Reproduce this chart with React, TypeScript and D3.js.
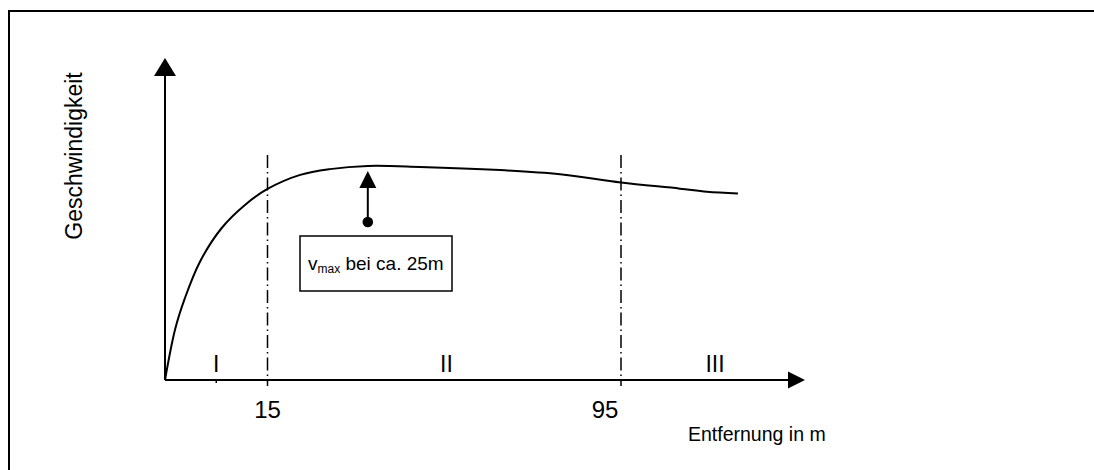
import React from "react";
import * as d3 from "d3";

// Distance (m, schematic) and speed (arbitrary units)
const distance = [0, 1.5, 2.9, 5.1, 8.3, 11.7, 15, 22.4, 29.1, 37.7, 49.5, 67.6, 81.2, 95, 109.4, 116, 123.6];
const speed = [0, 1.6, 2.55, 3.69, 4.75, 5.47, 5.97, 6.41, 6.59, 6.69, 6.66, 6.56, 6.43, 6.17, 5.98, 5.88, 5.83];
const boundaryTicks = [15, 95];
const boundaryLabels = ["15", "95"];
const regionLabels = ["I", "II", "III"];
const regionCenters = [7.5, 55.5, 118];
const vmaxAt = 37.7;
const axisLabelX = "Entfernung in m";
const axisLabelY = "Geschwindigkeit";

export default function App() {
  const W = 1094, H = 470;
  const x = d3.scaleLinear().domain([0, 15, 95, 140]).range([165, 267.5, 621, 805]);
  const y = d3.scaleLinear().domain([0, 10]).range([380, 60]);
  const pts: [number, number][] = distance.map((d, i) => [d, speed[i]]);
  const line = d3.line<[number, number]>().x(d => x(d[0])).y(d => y(d[1])).curve(d3.curveCatmullRom.alpha(0.5));
  const x0 = x(0), y0 = y(0);
  const xEnd = x(140), yEnd = 58;
  const font = "Liberation Sans, Arial, sans-serif";
  const ax = x(vmaxAt);
  const peakY = y(d3.max(speed) as number);
  return (
    <svg width={W} height={H} style={{ position: "absolute", left: 0, top: 0 }}>
      <rect x={0} y={0} width={W} height={H} fill="#fff" />
      <rect x={9} y={11} width={1200} height={600} fill="none" stroke="#000" strokeWidth={2} />
      {/* axes */}
      <line x1={x0} y1={y0} x2={x0} y2={yEnd + 16} stroke="#000" strokeWidth={2} />
      <path d={`M${x0},${yEnd} L${x0 - 11},${yEnd + 18} L${x0 + 11},${yEnd + 18} Z`} fill="#000" />
      <line x1={x0} y1={y0} x2={xEnd - 16} y2={y0} stroke="#000" strokeWidth={2} />
      <path d={`M${xEnd},${y0} L${xEnd - 17},${y0 - 8.5} L${xEnd - 17},${y0 + 8.5} Z`} fill="#000" />
      {/* small tick */}
      <line x1={x(7.5)} y1={y0} x2={x(7.5)} y2={y0 + 3} stroke="#000" strokeWidth={1.5} />
      {/* dash-dot boundaries */}
      {boundaryTicks.map((t, i) => (
        <line key={i} x1={x(t)} x2={x(t)} y1={155} y2={386} stroke="#000" strokeWidth={1.5} strokeDasharray="13,4,1.5,4" />
      ))}
      {/* curve */}
      <path d={line(pts) || ""} fill="none" stroke="#000" strokeWidth={2} />
      {/* annotation arrow */}
      <line x1={ax} y1={222} x2={ax} y2={peakY + 20} stroke="#000" strokeWidth={2} />
      <path d={`M${ax},${peakY + 5} L${ax - 8.5},${peakY + 22} L${ax + 8.5},${peakY + 22} Z`} fill="#000" />
      <circle cx={ax} cy={222} r={5.3} fill="#000" />
      <rect x={300} y={236} width={152} height={55} fill="none" stroke="#000" strokeWidth={1.5} />
      <text x={308} y={270} fontFamily={font} fontSize={19}>
        <tspan>v</tspan>
        <tspan fontSize={12} dy={3}>max</tspan>
        <tspan dy={-3}> bei ca. 25m</tspan>
      </text>
      {/* labels */}
      {boundaryLabels.map((l, i) => (
        <text key={i} x={x(boundaryTicks[i]) - (i === 1 ? 16 : 0)} y={418} textAnchor="middle" fontFamily={font} fontSize={24}>{l}</text>
      ))}
      {regionLabels.map((l, i) => (
        <text key={i} x={x(regionCenters[i])} y={372} textAnchor="middle" fontFamily={font} fontSize={23}>{l}</text>
      ))}
      <text x={688} y={441} fontFamily={font} fontSize={19.5}>{axisLabelX}</text>
      <text transform={`translate(82,156) rotate(-90)`} textAnchor="middle" fontFamily={font} fontSize={23}>{axisLabelY}</text>
    </svg>
  );
}
